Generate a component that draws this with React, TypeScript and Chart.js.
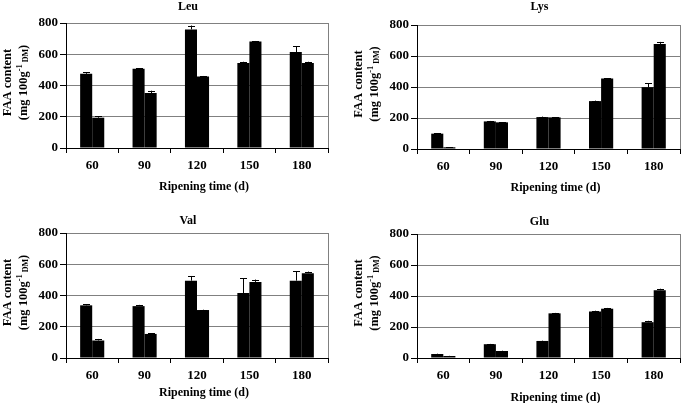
import React, { useEffect, useRef } from 'react';
import { Chart, registerables } from 'chart.js';
Chart.register(...registerables);

const categories = ['60', '90', '120', '150', '180'];
const yTicks = [0, 200, 400, 600, 800];
const xAxisTitle = 'Ripening time (d)';

const leuA = [475, 507, 759, 544, 614];
const leuAErr = [10, 5, 25, 8, 38];
const leuB = [194, 352, 458, 682, 544];
const leuBErr = [10, 15, 3, 3, 8];

const lysA = [99, 178, 206, 309, 399];
const lysAErr = [2, 3, 3, 3, 26];
const lysB = [11, 172, 204, 455, 678];
const lysBErr = [1, 2, 2, 3, 13];

const valA = [337, 332, 495, 416, 495];
const valAErr = [8, 8, 30, 95, 60];
const valB = [112, 154, 307, 487, 543];
const valBErr = [10, 3, 2, 15, 10];

const gluA = [26, 89, 110, 300, 231];
const gluAErr = [2, 2, 2, 5, 9];
const gluB = [13, 45, 288, 318, 437];
const gluBErr = [1, 2, 3, 5, 10];

const FAMILY = "'Liberation Serif', 'Times New Roman', serif";

const errorBars = {
  id: 'errorBars',
  afterDatasetsDraw(chart: any) {
    const ctx = chart.ctx;
    const ys = chart.scales.y;
    ctx.save();
    ctx.strokeStyle = '#000';
    ctx.lineWidth = 1;
    chart.data.datasets.forEach((ds: any, i: number) => {
      const meta = chart.getDatasetMeta(i);
      meta.data.forEach((el: any, j: number) => {
        const e = ds.err ? ds.err[j] : 0;
        if (!e) return;
        const x = Math.round(el.x) + 0.5;
        const yTop = ys.getPixelForValue(ds.data[j] + e);
        ctx.beginPath();
        ctx.moveTo(x, el.y);
        ctx.lineTo(x, yTop);
        ctx.moveTo(x - 3.5, Math.round(yTop) + 0.5);
        ctx.lineTo(x + 3.5, Math.round(yTop) + 0.5);
        ctx.stroke();
      });
    });
    ctx.restore();
  },
};

const decor = {
  id: 'decor',
  afterDraw(chart: any, _args: any, opts: any) {
    const ctx = chart.ctx;
    const a = chart.chartArea;
    const mid = (a.left + a.right) / 2;
    ctx.save();
    // right border
    ctx.strokeStyle = '#808080';
    ctx.lineWidth = 1;
    ctx.beginPath();
    ctx.moveTo(Math.round(a.right) + 0.5, a.top);
    ctx.lineTo(Math.round(a.right) + 0.5, a.bottom);
    ctx.stroke();
    ctx.fillStyle = '#000';
    ctx.textBaseline = 'middle';
    ctx.textAlign = 'center';
    // title
    ctx.font = `bold 12px ${FAMILY}`;
    ctx.fillText(opts.title, mid - 9, opts.titleY);
    // x title
    ctx.fillText(xAxisTitle, mid + 7, a.bottom + opts.xTitleDy);
    // y title
    const cy = (a.top + a.bottom) / 2 - 3;
    ctx.save();
    ctx.translate(a.left - 58, cy);
    ctx.rotate(-Math.PI / 2);
    ctx.font = `bold 12.5px ${FAMILY}`;
    ctx.fillText('FAA content', 0, 0);
    ctx.restore();
    ctx.save();
    ctx.translate(a.left - 42, cy);
    ctx.rotate(-Math.PI / 2);
    const segs = [
      { t: '(mg 100g', f: `bold 12.5px ${FAMILY}`, dy: 0 },
      { t: '-1', f: `bold 8.5px ${FAMILY}`, dy: -4 },
      { t: ' DM', f: `bold 8px ${FAMILY}`, dy: 2 },
      { t: ')', f: `bold 12.5px ${FAMILY}`, dy: 0 },
    ];
    let total = 0;
    segs.forEach((s) => {
      ctx.font = s.f;
      total += ctx.measureText(s.t).width;
    });
    let x = -total / 2;
    ctx.textAlign = 'left';
    segs.forEach((s) => {
      ctx.font = s.f;
      ctx.fillText(s.t, x, s.dy);
      x += ctx.measureText(s.t).width;
    });
    ctx.restore();
    ctx.restore();
  },
};

type PanelProps = {
  title: string;
  a: number[];
  aErr: number[];
  b: number[];
  bErr: number[];
  left: number;
  top: number;
  width: number;
  height: number;
  area: { top: number; bottom: number; left: number; right: number };
  titleY: number;
  xTitleDy: number;
};

function Panel(p: PanelProps) {
  const ref = useRef<HTMLCanvasElement>(null);
  useEffect(() => {
    if (!ref.current) return;
    const tickFont = { family: FAMILY, size: 13, weight: 'bold' as const };
    const chart = new Chart(ref.current, {
      type: 'bar',
      data: {
        labels: categories,
        datasets: [
          { data: p.a, err: p.aErr, backgroundColor: '#000', categoryPercentage: 0.46, barPercentage: 1 } as any,
          { data: p.b, err: p.bErr, backgroundColor: '#000', categoryPercentage: 0.46, barPercentage: 1 } as any,
        ],
      },
      options: {
        responsive: false,
        animation: false,
        devicePixelRatio: 1,
        layout: { padding: { top: p.area.top, right: p.width - p.area.right, left: 0, bottom: 0 } },
        plugins: {
          legend: { display: false },
          title: { display: false },
          tooltip: { enabled: false },
          decor: { title: p.title, titleY: p.titleY, xTitleDy: p.xTitleDy },
        } as any,
        scales: {
          x: {
            grid: { display: true, drawOnChartArea: false, drawTicks: true, tickLength: 5, color: '#000', offset: true },
            border: { color: '#000', width: 1 },
            ticks: { color: '#000', font: tickFont, padding: 5, maxRotation: 0 },
            afterFit: (s: any) => { s.height = p.height - p.area.bottom; },
          },
          y: {
            min: 0,
            max: 800,
            afterBuildTicks: (s: any) => { s.ticks = yTicks.map((v) => ({ value: v })); },
            ticks: { color: '#000', font: tickFont, padding: 2 },
            grid: { color: '#808080', tickColor: '#000', tickLength: 6 },
            border: { color: '#000', width: 1 },
            afterFit: (s: any) => { s.width = p.area.left; },
          },
        },
      } as any,
      plugins: [errorBars, decor],
    });
    return () => chart.destroy();
  }, []);
  return (
    <canvas
      ref={ref}
      width={p.width}
      height={p.height}
      style={{ position: 'absolute', left: p.left, top: p.top, width: p.width, height: p.height, display: 'block' }}
    />
  );
}

export default function App() {
  return (
    <div style={{ position: 'absolute', left: 0, top: 0, width: 685, height: 403, background: '#fff', overflow: 'hidden' }}>
      <Panel title="Leu" a={leuA} aErr={leuAErr} b={leuB} bErr={leuBErr}
        left={0} top={0} width={342} height={200}
        area={{ top: 23, bottom: 148, left: 66, right: 328 }} titleY={7} xTitleDy={39} />
      <Panel title="Lys" a={lysA} aErr={lysAErr} b={lysB} bErr={lysBErr}
        left={342} top={0} width={343} height={200}
        area={{ top: 25, bottom: 149, left: 75, right: 338 }} titleY={7} xTitleDy={39} />
      <Panel title="Val" a={valA} aErr={valAErr} b={valB} bErr={valBErr}
        left={0} top={200} width={342} height={203}
        area={{ top: 33, bottom: 158, left: 66, right: 328 }} titleY={21} xTitleDy={35} />
      <Panel title="Glu" a={gluA} aErr={gluAErr} b={gluB} bErr={gluBErr}
        left={342} top={200} width={343} height={203}
        area={{ top: 34, bottom: 158, left: 75, right: 338 }} titleY={22} xTitleDy={40} />
    </div>
  );
}
